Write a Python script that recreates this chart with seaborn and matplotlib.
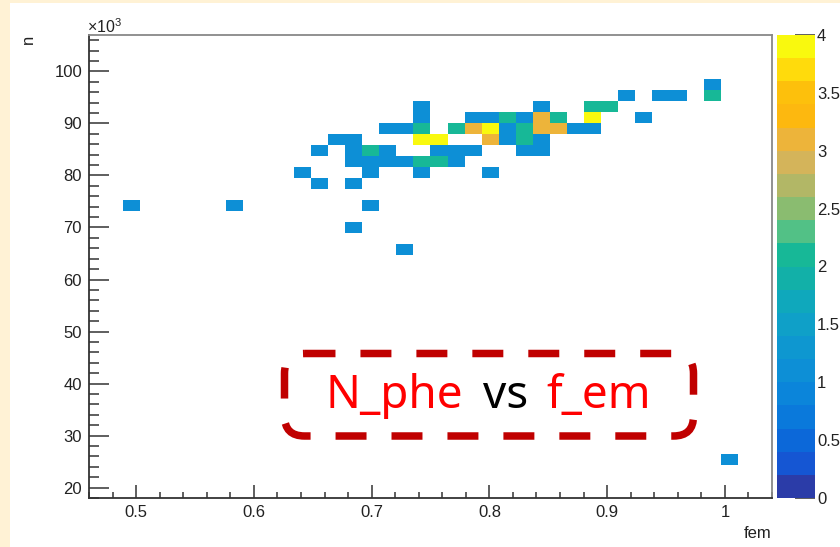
import numpy as np
import pandas as pd
import seaborn as sns
import matplotlib
matplotlib.use("Agg")
import matplotlib.pyplot as plt
from matplotlib.colors import ListedColormap
from matplotlib.ticker import MultipleLocator, FixedLocator, FixedFormatter
from matplotlib.patches import FancyBboxPatch, Rectangle

# ---------------- data ----------------
# bin contents of the 2D histogram: fem value, n value, entries
fem = [
    0.989,
    0.917, 0.946, 0.960, 0.989,
    0.743, 0.844, 0.888, 0.902,
    0.743, 0.786, 0.801, 0.815, 0.830, 0.844, 0.859, 0.888, 0.931,
    0.714, 0.728, 0.743, 0.772, 0.786, 0.801, 0.815, 0.830, 0.844, 0.859, 0.873, 0.888,
    0.670, 0.685, 0.743, 0.757, 0.801, 0.815, 0.830, 0.844,
    0.656, 0.685, 0.699, 0.714, 0.757, 0.772, 0.786, 0.830, 0.844,
    0.685, 0.699, 0.714, 0.728, 0.743, 0.757, 0.772,
    0.641, 0.699, 0.743, 0.801,
    0.656, 0.685,
    0.496, 0.583, 0.699,
    0.685,
    0.728,
    1.004,
]
n_phe = (
    [97500] * 1
    + [95300] * 4
    + [93200] * 4
    + [91100] * 9
    + [89000] * 12
    + [86900] * 8
    + [84700] * 9
    + [82600] * 7
    + [80500] * 4
    + [78400] * 2
    + [74200] * 3
    + [69900] * 1
    + [65700] * 1
    + [25400] * 1
)
entries = [
    1,
    1, 1, 1, 2,
    1, 1, 2, 2,
    1, 1, 1, 2, 1, 3, 2, 4, 1,
    1, 1, 2, 2, 3, 4, 1, 2, 3, 3, 1, 1,
    1, 1, 4, 4, 3, 1, 2, 1,
    1, 1, 2, 1, 1, 1, 1, 1, 1,
    1, 1, 1, 1, 2, 2, 1,
    1, 1, 1, 1,
    1, 1,
    1, 1, 1,
    1,
    1,
    1,
]

x_range = (0.46, 1.04)
y_range = (18000, 107000)
x_bins = 40
y_bins = 42

x_ticks = [0.5, 0.6, 0.7, 0.8, 0.9, 1.0]
x_tick_labels = ["0.5", "0.6", "0.7", "0.8", "0.9", "1"]
y_ticks = [20000, 30000, 40000, 50000, 60000, 70000, 80000, 90000, 100000]
y_tick_labels = ["20", "30", "40", "50", "60", "70", "80", "90", "100"]
z_ticks = [0, 0.5, 1, 1.5, 2, 2.5, 3, 3.5, 4]
z_tick_labels = ["0", "0.5", "1", "1.5", "2", "2.5", "3", "3.5", "4"]

# 20-level palette (ROOT "bird"-like), bottom to top
palette = ['#2B3CA8', '#1556D3', '#0C68D9', '#0A79DB', '#0B85DA',
           '#0D8FD6', '#0E97D0', '#0FA0C8', '#0FA8BC', '#12B0A8',
           '#17B897', '#52C186', '#8ABC70', '#B2B766', '#D4B45A',
           '#EDB43A', '#FDB80F', '#FDC00C', '#FFDB0C', '#F9F90E']

# ---------------- style ----------------
sns.set_style("white")
plt.rcParams['font.family'] = ['Liberation Sans', 'DejaVu Sans']
plt.rcParams['mathtext.fontset'] = 'custom'
plt.rcParams['mathtext.rm'] = 'Liberation Sans'
plt.rcParams['mathtext.it'] = 'Liberation Sans:italic'

W, H = 840, 547
fig = plt.figure(figsize=(W / 100, H / 100), dpi=100, facecolor='#FFF2D5')

bg = fig.add_axes([0, 0, 1, 1], zorder=0)
bg.set_xlim(0, W)
bg.set_ylim(H, 0)
bg.axis('off')
bg.add_patch(Rectangle((10, 3), W - 10, H - 3, facecolor='white', edgecolor='none'))


def px_rect(x0, y0, x1, y1):
    return [x0 / W, 1 - y1 / H, (x1 - x0) / W, (y1 - y0) / H]


ax = fig.add_axes(px_rect(89, 35, 772, 498), zorder=1)
cax = fig.add_axes(px_rect(777, 35, 815, 498), zorder=1)
ax.set_facecolor('white')

df = pd.DataFrame({'fem': fem, 'n': n_phe, 'w': entries})
sns.histplot(data=df, x='fem', y='n', weights='w',
             bins=(x_bins, y_bins), binrange=(x_range, y_range),
             cmap=ListedColormap(palette), vmin=0, vmax=4,
             cbar=True, cbar_ax=cax, ax=ax)

ax.set_xlim(*x_range)
ax.set_ylim(*y_range)
ax.xaxis.set_major_locator(FixedLocator(x_ticks))
ax.xaxis.set_major_formatter(FixedFormatter(x_tick_labels))
ax.xaxis.set_minor_locator(MultipleLocator(0.02))
ax.yaxis.set_major_locator(FixedLocator(y_ticks))
ax.yaxis.set_major_formatter(FixedFormatter(y_tick_labels))
ax.yaxis.set_minor_locator(MultipleLocator(2000))

tick_col = '#333333'
ax.tick_params(axis='both', which='both', left=True, bottom=True,
               right=False, top=False)
ax.tick_params(axis='y', which='major', direction='in', length=14.4, width=1.1,
               color=tick_col, labelsize=12, labelcolor='#222222', pad=5)
ax.tick_params(axis='y', which='minor', direction='in', length=7.2, width=1.1,
               color=tick_col)
ax.tick_params(axis='x', which='major', direction='in', length=9.4, width=1.1,
               color=tick_col, labelsize=12, labelcolor='#222222', pad=5)
ax.tick_params(axis='x', which='minor', direction='in', length=4.3, width=1.1,
               color=tick_col)

for s in ['left', 'bottom']:
    ax.spines[s].set_color('#333333')
    ax.spines[s].set_linewidth(1.3)
for s in ['top', 'right']:
    ax.spines[s].set_color('#888888')
    ax.spines[s].set_linewidth(1.3)

ax.set_ylabel('n', loc='top', fontsize=12, color='#222222')
ax.yaxis.set_label_coords(-0.078, 1.0)
ax.set_xlabel('fem', loc='right', fontsize=12, color='#222222')
ax.xaxis.set_label_coords(1.0, -0.06)

cb = ax.collections[0].colorbar
cb.outline.set_visible(False)
cb.set_ticks(z_ticks, labels=z_tick_labels)
cax.yaxis.set_minor_locator(FixedLocator([]))
cax.tick_params(axis='y', which='major', direction='in', length=14.4, width=1.1,
                color=tick_col, labelsize=12, labelcolor='#222222', pad=1.5,
                right=True, left=False)

# ---------------- overlay: exponent and annotation ----------------
ov = fig.add_axes([0, 0, 1, 1], zorder=3)
ov.set_xlim(0, W)
ov.set_ylim(H, 0)
ov.axis('off')

ov.text(87, 33, r'$\mathregular{\times10^{3}}$', fontsize=11.5, color='#222222',
        ha='left', va='baseline')

box = FancyBboxPatch((284.5, 353.5), 409, 82.5,
                     boxstyle='round,pad=0,rounding_size=20',
                     fill=False, edgecolor='#C00000', linewidth=5.4,
                     linestyle=(0, (4.13, 3.33)), capstyle='butt')
ov.add_patch(box)

fam = ['Noto Sans', 'DejaVu Sans']
ov.text(325, 408, 'N_phe', color='#FF0000', fontsize=33, family=fam,
        ha='left', va='baseline')
ov.text(483, 408, 'vs', color='#000000', fontsize=33, family=fam,
        ha='left', va='baseline')
ov.text(546, 408, 'f_em', color='#FF0000', fontsize=33, family=fam,
        ha='left', va='baseline')

fig.savefig('out.png', dpi=100, facecolor=fig.get_facecolor())
